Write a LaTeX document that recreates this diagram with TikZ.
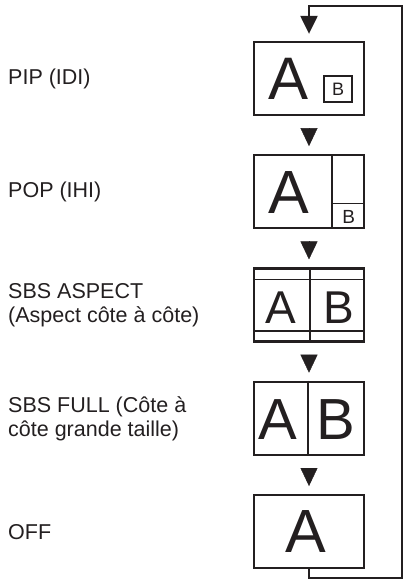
\documentclass[tikz,border=0pt]{standalone}
\usepackage{fontspec}
\setmainfont{Liberation Sans}
\usetikzlibrary{positioning,arrows.meta}
\definecolor{ink}{HTML}{231F20}
\tikzset{%
  screen/.style={draw=ink, line width=2.3pt, minimum width=110pt,
    minimum height=73pt, inner sep=0pt},
  divider/.style={draw=ink, line width=1.8pt},
  glyph/.style 2 args={font=\fontsize{#1}{#1}\selectfont, text=ink,
    inner sep=0pt, text height=#2pt, text depth=0pt},
  subscreen/.style={draw=ink, line width=1.7pt, minimum width=28pt,
    minimum height=26pt},
  modename/.style={font=\fontsize{21.5}{24}\selectfont, text=ink,
    align=left, anchor=west, inner sep=0pt},
  advance/.style={draw=ink, line width=0.4pt, shorten <=12pt, shorten >=8pt,
    -{Triangle[width=17pt,length=18pt]}},
  loopback/.style={draw=ink, line width=2.3pt, shorten >=7pt,
    -{Triangle[width=17pt,length=18pt]}}
}

\begin{document}
\begin{tikzpicture}[x=1pt, y=1pt, node distance=38pt]
    \useasboundingbox (0,0) rectangle (406,581);

    \node [screen] (pip) at (309,502.5) {};
    \node [screen, below=of pip] (pop) {};
    \node [screen, below=of pop] (aspect) {};
    \node [screen, below=of aspect] (full) {};
    \node [screen, below=of full] (off) {};

    % PIP
    \node [glyph={60}{43}] (pipA) at ([xshift=-20pt]pip.center) {A};
    \node [subscreen, glyph={18}{13}] (pipB) at ([shift={(29pt,-10.5pt)}]pip.center) {B};

    % POP
    \node [glyph={61}{44}] (popA) at ([xshift=-20pt]pop.center) {A};
    \draw [divider] ([xshift=-33pt]pop.north east) -- ([xshift=-33pt]pop.south east);
    \draw [divider] ([shift={(-33pt,26pt)}]pop.south east) -- ([yshift=26pt]pop.south east);
    \node [glyph={19}{14}] (popB) at ([shift={(-16.5pt,13pt)}]pop.south east) {B};

    % SBS ASPECT
    \draw [divider] ([yshift=-12pt]aspect.north west) -- ([yshift=-12pt]aspect.north east);
    \draw [divider] ([yshift=12pt]aspect.south west) -- ([yshift=12pt]aspect.south east);
    \draw [divider] ([xshift=1pt]aspect.north) -- ([xshift=1pt]aspect.south);
    \node [glyph={46}{33}] (aspectA) at ([shift={(-28pt,-1.5pt)}]aspect.center) {A};
    \node [glyph={46}{33}] (aspectB) at ([shift={(29.5pt,-1.5pt)}]aspect.center) {B};

    % SBS FULL
    \draw [divider] ([xshift=-1pt]full.north) -- ([xshift=-1pt]full.south);
    \node [glyph={58}{42}] (fullA) at ([xshift=-31.5pt]full.center) {A};
    \node [glyph={58}{42}] (fullB) at ([xshift=26.5pt]full.center) {B};

    % OFF
    \node [glyph={61}{44}] (offA) at ([shift={(-3pt,1.5pt)}]off.center) {A};

    \draw [advance] (pip) -- (pop);
    \draw [advance] (pop) -- (aspect);
    \draw [advance] (aspect) -- (full);
    \draw [advance] (full) -- (off);

    \coordinate (loopbr) at (402,3);
    \coordinate (looptr) at (402,575);
    \draw [loopback] (off.south) |- (loopbr) -- (looptr) -| (pip.north);

    \coordinate (lx) at (8,0);
    \node [modename] (pipname) at (pip -| lx) {PIP (IDI)};
    \node [modename] (popname) at (pop -| lx) {POP (IHI)};
    \node [modename] (aspectname) at (aspect -| lx) {SBS ASPECT\\(Aspect côte à côte)};
    \node [modename] (fullname) at (full -| lx) {SBS FULL (Côte à\\côte grande taille)};
    \node [modename] (offname) at (off -| lx) {OFF};
\end{tikzpicture}
\end{document}
